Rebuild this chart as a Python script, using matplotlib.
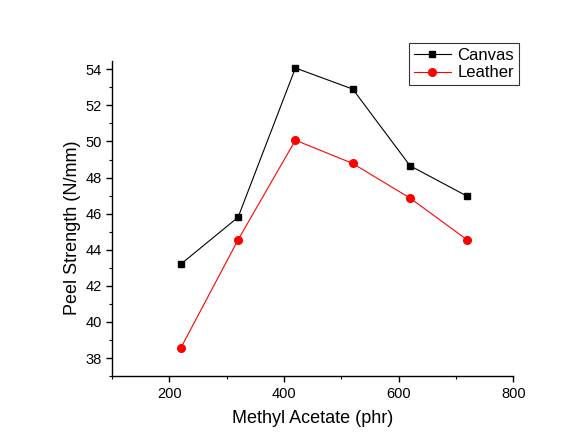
import matplotlib
matplotlib.use("Agg")
import matplotlib.pyplot as plt
from matplotlib.ticker import MultipleLocator

plt.rcParams['font.family'] = ['Liberation Sans', 'DejaVu Sans']

methyl_acetate = [220, 320, 420, 520, 620, 720]
canvas = [43.2, 45.8, 54.07, 52.9, 48.65, 46.96]
leather = [38.55, 44.55, 50.07, 48.78, 46.86, 44.54]

fig = plt.figure(figsize=(5.8, 4.43), dpi=100)
ax = fig.add_axes([0.193, 0.151, 0.692, 0.711])

ax.plot(methyl_acetate, canvas, color='black', lw=0.8, marker='s', ms=5, label='Canvas')
ax.plot(methyl_acetate, leather, color='red', lw=0.8, marker='o', ms=5.5, label='Leather')

ax.set_xlim(100, 800)
ax.set_ylim(37, 54.45)
ax.xaxis.set_major_locator(MultipleLocator(200))
ax.xaxis.set_minor_locator(MultipleLocator(100))
ax.yaxis.set_major_locator(MultipleLocator(2))
ax.yaxis.set_minor_locator(MultipleLocator(1))

for s in ['top', 'right']:
    ax.spines[s].set_visible(False)
for s in ['left', 'bottom']:
    ax.spines[s].set_linewidth(1.0)
ax.tick_params(which='major', direction='out', length=4, width=1, labelsize=10.5)
ax.tick_params(which='minor', direction='out', length=2.5, width=0.8)

ax.set_xlabel('Methyl Acetate (phr)', fontsize=13, labelpad=7)
ax.set_ylabel('Peel Strength (N/mm)', fontsize=13, labelpad=3)
ax.yaxis.label.set_y(0.47)

leg = ax.legend(loc='upper right', bbox_to_anchor=(0.895, 0.903), bbox_transform=fig.transFigure,
                fontsize=12, frameon=True, fancybox=False, edgecolor='black',
                handlelength=2.2, borderpad=0.3, labelspacing=0.15, handletextpad=0.4,
                borderaxespad=0)
leg.get_frame().set_linewidth(0.8)

fig.savefig('out.png', dpi=100, facecolor='white')
